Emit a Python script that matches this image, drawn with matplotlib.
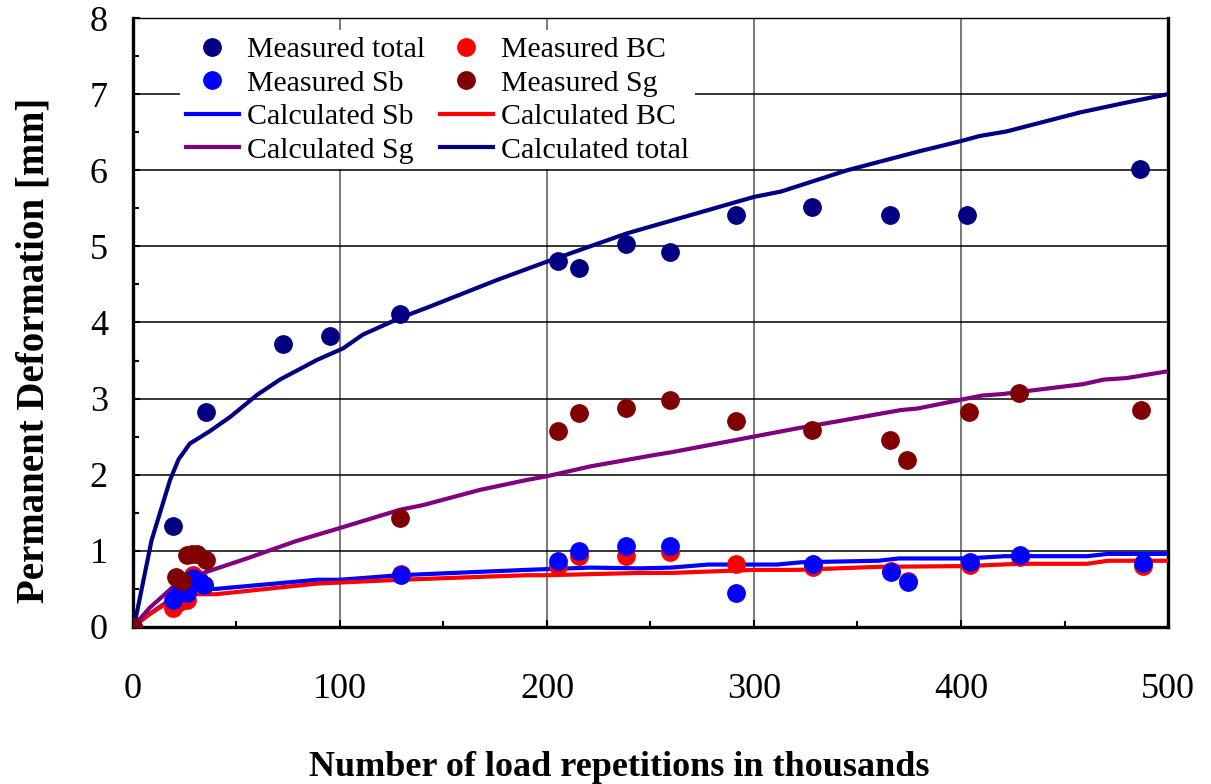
import matplotlib
matplotlib.use('Agg')
from matplotlib import pyplot as plt
from matplotlib.ticker import MultipleLocator

# Measured data (thousands of repetitions, mm)
x_total = [0, 19.5, 35.5, 72.6, 95, 129, 205.5, 215.5, 238, 259.5, 291.5, 328, 365.5, 403, 486.5]
y_total = [0, 1.33, 2.82, 3.72, 3.82, 4.11, 4.81, 4.71, 5.03, 4.92, 5.41, 5.52, 5.41, 5.41, 6.02]

x_sub = [0, 19.5, 22, 26, 29, 32, 34.5, 129.5, 205.5, 215.5, 238, 259.5, 291.5, 328.5, 366, 374.5, 404.5, 428.5, 488]
y_bc = [0, 0.25, 0.33, 0.35, 0.68, 0.62, 0.55, 0.70, 0.80, 0.93, 0.93, 0.98, 0.83, 0.79, 0.73, 0.61, 0.82, 0.92, 0.80]
y_sb = [0, 0.35, 0.45, 0.45, 0.64, 0.60, 0.55, 0.68, 0.87, 1.00, 1.06, 1.07, 0.45, 0.83, 0.72, 0.59, 0.86, 0.94, 0.84]

x_sg = [0, 21, 23.5, 26, 28.5, 31, 35.5, 129, 205.5, 215.5, 238, 259.5, 291.5, 328, 365.5, 374, 404, 428, 487]
y_sg = [0, 0.66, 0.60, 0.95, 0.96, 0.96, 0.88, 1.43, 2.57, 2.81, 2.88, 2.98, 2.70, 2.59, 2.46, 2.20, 2.83, 3.07, 2.85]

# Calculated curves
xc_total = [0, 1, 9, 17.9, 22, 27.5, 37, 47, 60, 71, 89, 101.5, 111, 129, 143.5, 176, 200, 238.5, 300, 313, 345, 380, 399.5, 409, 422, 457.5, 480, 500]
yc_total = [0, 0.07, 1.14, 1.93, 2.2, 2.41, 2.57, 2.76, 3.05, 3.25, 3.51, 3.66, 3.84, 4.06, 4.21, 4.56, 4.80, 5.17, 5.65, 5.72, 6.0, 6.25, 6.38, 6.45, 6.51, 6.76, 6.89, 7.0]

xc_sg = [0, 8, 19.5, 34, 55, 79, 100, 129, 140, 167.5, 190, 200, 221, 250, 261, 321, 340, 371, 379, 410, 420, 459, 469, 480, 500]
yc_sg = [0, 0.25, 0.53, 0.71, 0.90, 1.13, 1.30, 1.54, 1.60, 1.80, 1.93, 1.98, 2.11, 2.25, 2.30, 2.61, 2.70, 2.85, 2.87, 3.04, 3.06, 3.19, 3.25, 3.27, 3.36]

xc_sb = [0, 8, 16, 24, 30, 40, 89, 100, 129, 190, 200, 221, 245, 260, 278, 311, 323, 360, 370, 403, 421, 461, 471, 500]
yc_sb = [0, 0.17, 0.32, 0.43, 0.49, 0.50, 0.62, 0.62, 0.68, 0.75, 0.76, 0.78, 0.77, 0.78, 0.82, 0.82, 0.85, 0.87, 0.90, 0.90, 0.93, 0.93, 0.96, 0.96]

xc_bc = [0, 7, 15, 24, 29, 40, 89, 129, 190, 200, 245, 260, 300, 321, 360, 403, 428, 461, 471, 500]
yc_bc = [0, 0.15, 0.29, 0.40, 0.43, 0.43, 0.57, 0.62, 0.68, 0.68, 0.71, 0.71, 0.75, 0.75, 0.79, 0.80, 0.83, 0.83, 0.87, 0.87]

plt.rcParams['font.family'] = ['Liberation Serif', 'DejaVu Serif']

fig = plt.figure(figsize=(12.11, 7.84), dpi=100)
ax = fig.add_axes([0.1098, 0.2003, 0.8547, 0.7767])

lw = 3.0
ms = 12.5
h_csb, = ax.plot(xc_sb, yc_sb, c='#0000FF', lw=lw, zorder=3, label='Calculated Sb')
h_cbc, = ax.plot(xc_bc, yc_bc, c='#FF0000', lw=lw, zorder=3, label='Calculated BC')
h_csg, = ax.plot(xc_sg, yc_sg, c='#800080', lw=lw, zorder=3, label='Calculated Sg')
h_ctot, = ax.plot(xc_total, yc_total, c='#000080', lw=lw, zorder=3, label='Calculated total')

h_mtot, = ax.plot(x_total, y_total, 'o', c='#000080', ms=ms, zorder=4, label='Measured total')
h_mbc, = ax.plot(x_sub, y_bc, 'o', c='#FF0000', ms=ms, zorder=4, label='Measured BC')
h_msb, = ax.plot(x_sub, y_sb, 'o', c='#0000FF', ms=ms, zorder=5, label='Measured Sb')
h_msg, = ax.plot(x_sg, y_sg, 'o', c='#800000', ms=ms, zorder=6, label='Measured Sg')

ax.set_xlim(0, 500)
ax.set_ylim(0, 8)
ax.xaxis.set_major_locator(MultipleLocator(100))
ax.xaxis.set_minor_locator(MultipleLocator(50))
ax.yaxis.set_major_locator(MultipleLocator(1))
ax.yaxis.set_minor_locator(MultipleLocator(0.5))
ax.xaxis.grid(True, color='#555555', lw=1.1)
ax.yaxis.grid(True, color='black', lw=1.1)
ax.set_axisbelow(True)

ax.tick_params(axis='both', which='both', direction='in', labelsize=26, width=1.5)
ax.tick_params(axis='both', which='major', length=5)
ax.tick_params(axis='both', which='minor', length=4)
ax.tick_params(axis='x', pad=33)
ax.tick_params(axis='y', pad=18)

for side in ['left', 'bottom', 'right']:
    ax.spines[side].set_linewidth(2.4)
ax.spines['top'].set_linewidth(1.0)

ax.set_xlabel('Number of load repetitions in thousands', fontsize=26, fontweight='bold')
ax.set_ylabel('Permanent Deformation [mm]', fontsize=28, fontweight='bold')
ax.xaxis.set_label_coords(0.47, -0.203)
ax.yaxis.set_label_coords(-0.078, 0.455)

handles = [h_mtot, h_msb, h_csb, h_csg, h_mbc, h_msg, h_cbc, h_ctot]
leg = ax.legend(handles=handles, ncol=2, loc='upper left', bbox_to_anchor=(0.045, 0.98),
                fontsize=21.5, frameon=True, facecolor='white', edgecolor='none', framealpha=1,
                borderpad=0.2, labelspacing=0.22, handlelength=1.78, handletextpad=0.27,
                columnspacing=0.5, borderaxespad=0)
leg.set_zorder(7)

plt.savefig('out.png', dpi=100)
